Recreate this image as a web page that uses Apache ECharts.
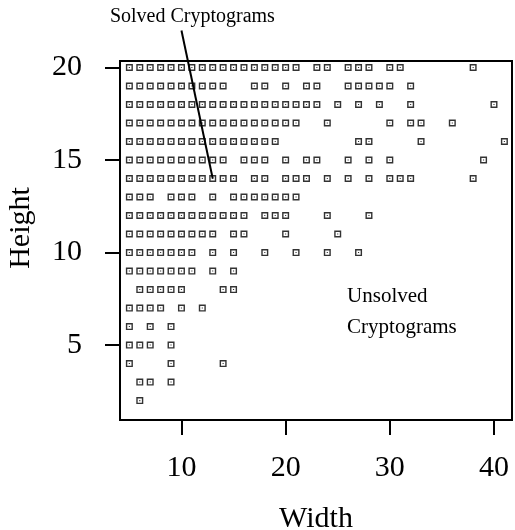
<!DOCTYPE html>
<html>
<head>
<meta charset="utf-8">
<script src="https://cdn.jsdelivr.net/npm/echarts@6/dist/echarts.min.js"></script>
<style>
  html, body { margin: 0; padding: 0; background: #fff; }
  #chart { width: 515px; height: 530px; }
</style>
</head>
<body>
<div id="chart"></div>
<script>
// Heights (rows) and the widths that have a square on each row
const heights = [20, 19, 18, 17, 16, 15, 14, 13, 12, 11, 10, 9, 8, 7, 6, 5, 4, 3, 2]
const widthsByHeight = [
  [5, 6, 7, 8, 9, 10, 11, 12, 13, 14, 15, 16, 17, 18, 19, 20, 21, 23, 24, 26, 27, 28, 30, 31, 38],
  [5, 6, 7, 8, 9, 10, 11, 12, 13, 14, 17, 18, 20, 22, 23, 26, 27, 28, 29, 30, 32],
  [5, 6, 7, 8, 9, 10, 11, 12, 13, 14, 15, 16, 17, 18, 19, 20, 21, 22, 23, 25, 27, 29, 32, 40],
  [5, 6, 7, 8, 9, 10, 11, 12, 13, 14, 15, 16, 17, 18, 19, 20, 21, 24, 30, 32, 33, 36],
  [5, 6, 7, 8, 9, 10, 11, 12, 13, 14, 15, 16, 17, 18, 19, 27, 28, 33, 41],
  [5, 6, 7, 8, 9, 10, 11, 12, 13, 14, 16, 17, 18, 20, 22, 23, 26, 28, 30, 39],
  [5, 6, 7, 8, 9, 10, 11, 12, 13, 14, 15, 17, 18, 20, 21, 22, 24, 26, 28, 30, 31, 32, 38],
  [5, 6, 7, 9, 10, 11, 13, 15, 16, 17, 18, 19, 20, 21],
  [5, 6, 7, 8, 9, 10, 11, 12, 13, 14, 15, 16, 18, 19, 20, 24, 28],
  [5, 6, 7, 8, 9, 10, 11, 12, 13, 15, 16, 20, 25],
  [5, 6, 7, 8, 9, 10, 11, 13, 15, 18, 21, 24, 27],
  [5, 6, 7, 8, 9, 10, 11, 13, 15],
  [6, 7, 8, 9, 10, 14, 15],
  [5, 6, 7, 8, 10, 12],
  [5, 7, 9],
  [5, 6, 7, 9],
  [5, 9, 14],
  [6, 7, 9],
  [6],
]
const xTicks = [10, 20, 30, 40]
const yTicks = [5, 10, 15, 20]

// annotations (data coords)
const solvedText = [11.05, 22.73]
const solvedPointer = [[10, 22], [13, 14]]
const unsolvedText = [25.9, 6.81]

const FONT = "'Liberation Serif', 'Times New Roman', serif"

const points = []
heights.forEach((h, i) => {
  widthsByHeight[i].forEach((w) => points.push([w, h]))
})

const chart = echarts.init(document.getElementById('chart'))

chart.setOption({
  animation: false,
  grid: {
    show: true,
    borderColor: '#000',
    borderWidth: 2,
    left: 120,
    right: 3,
    top: 61,
    bottom: 110,
    outerBoundsMode: 'none',
  },
  xAxis: {
    type: 'value',
    min: 4.1,
    max: 41.73,
    name: 'Width',
    nameLocation: 'middle',
    nameGap: 84,
    nameTextStyle: { fontFamily: FONT, fontSize: 30, color: '#000' },
    splitLine: { show: false },
    axisLine: { show: false },
    axisTick: {
      show: true,
      length: 15,
      customValues: xTicks,
      lineStyle: { color: '#000', width: 2 },
    },
    axisLabel: {
      customValues: xTicks,
      margin: 33,
      fontFamily: FONT,
      fontSize: 30,
      color: '#000',
    },
  },
  yAxis: {
    type: 'value',
    min: 0.95,
    max: 20.35,
    name: 'Height',
    nameLocation: 'middle',
    nameGap: 84,
    nameTextStyle: { fontFamily: FONT, fontSize: 30, color: '#000', padding: [0, 0, 0, 25] },
    splitLine: { show: false },
    axisLine: { show: false },
    axisTick: {
      show: true,
      length: 15,
      customValues: yTicks,
      lineStyle: { color: '#000', width: 2 },
    },
    axisLabel: {
      customValues: yTicks,
      margin: 38,
      fontFamily: FONT,
      fontSize: 30,
      color: '#000',
    },
  },
  series: [{
    type: 'scatter',
    data: points,
    symbol: 'path://M0,0H10V10H0Z M2,2V8H8V2Z M4.2,4.2H5.8V5.8H4.2Z',
    symbolSize: 7,
    itemStyle: { color: '#000' },
  }],
})

// annotations placed through the chart's own scales
const px = (p) => chart.convertToPixel({ gridIndex: 0 }, p)
const st = px(solvedText)
const p0 = px(solvedPointer[0])
const p1 = px(solvedPointer[1])
const ut = px(unsolvedText)

chart.setOption({
  graphic: [
    {
      type: 'text',
      x: st[0],
      y: st[1],
      style: {
        text: 'Solved Cryptograms',
        fontFamily: FONT,
        fontSize: 20,
        fill: '#000',
        align: 'center',
        verticalAlign: 'middle',
      },
    },
    {
      type: 'line',
      shape: { x1: p0[0], y1: p0[1], x2: p1[0], y2: p1[1] },
      style: { stroke: '#000', lineWidth: 2 },
    },
    {
      type: 'text',
      x: ut[0],
      y: ut[1],
      style: {
        text: 'Unsolved\nCryptograms',
        fontFamily: FONT,
        fontSize: 21,
        lineHeight: 31,
        fill: '#000',
        align: 'left',
        verticalAlign: 'middle',
      },
    },
  ],
})
</script>
</body>
</html>
